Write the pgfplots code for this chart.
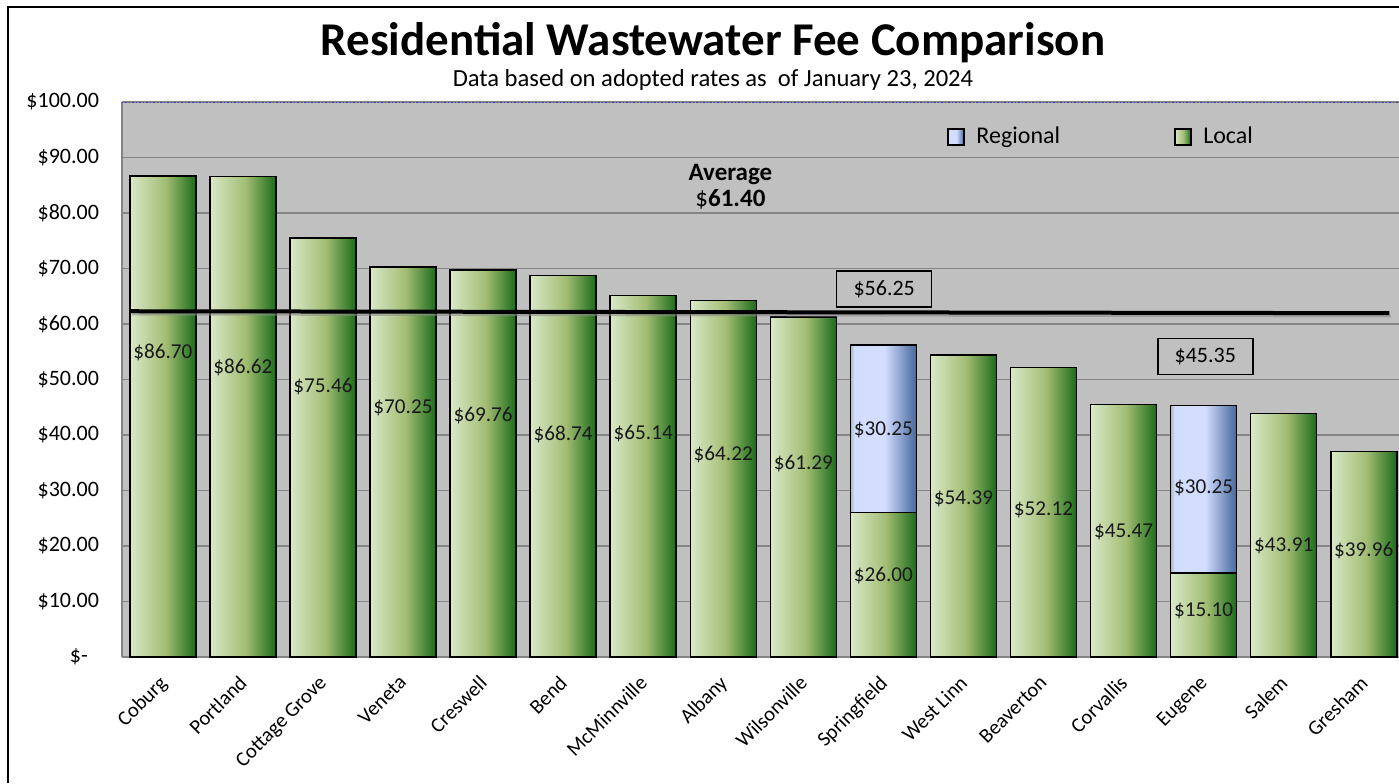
\documentclass[border=0pt]{standalone}
\usepackage{pgfplots}
\pgfplotsset{compat=1.18}
\usepackage{fontspec}
\setmainfont{Carlito}
\definecolor{plotbg}{HTML}{C0C0C0}
\definecolor{gridc}{HTML}{858585}
\definecolor{gL}{HTML}{DAE8C8}
\definecolor{gM}{HTML}{A2BD73}
\definecolor{gR}{HTML}{1A6C1A}
\definecolor{bA}{HTML}{A9B9C3}
\definecolor{bM}{HTML}{D2DDFF}
\definecolor{bR}{HTML}{46679C}
\pgfdeclarehorizontalshading{greenbar}{100bp}{color(0bp)=(gL); color(25bp)=(gL); color(52bp)=(gM); color(75bp)=(gR); color(100bp)=(gR)}
\pgfdeclarehorizontalshading{bluebar}{100bp}{color(0bp)=(bA); color(25bp)=(bA); color(28bp)=(bM); color(51bp)=(bM); color(75bp)=(bR); color(100bp)=(bR)}
\pgfplotsset{
  localbar/.style={ybar, bar width=33pt, bar shift=0pt, draw=black, line width=0.75pt, shade, shading=greenbar, forget plot},
  regbar/.style={ybar, bar width=33pt, bar shift=0pt, draw=black, line width=0.75pt, shade, shading=bluebar, forget plot},
}
\begin{document}
\begin{tikzpicture}[x=0.5pt,y=0.5pt]
\useasboundingbox (0,0) rectangle (1399,783);
\fill[white] (0,0) rectangle (1399,783);
\draw[line width=1pt] (8,0) -- (8,776) -- (1400,776);
\node[font=\bfseries\fontsize{23.5}{27}\selectfont] at (713,740) {Residential Wastewater Fee Comparison};
\node[font=\fontsize{12.3}{14}\selectfont] at (713,703) {Data based on adopted rates as\ \ of January 23, 2024};
\begin{axis}[
  at={(61pt,63pt)}, anchor=south west, scale only axis,
  width=638.5pt, height=277.5pt,
  xmin=-0.51, xmax=15.44, ymin=0, ymax=100,
  axis background/.style={fill=plotbg},
  axis x line*=bottom, axis y line*=left,
  axis line style={gridc, line width=1pt},
  ymajorgrids, grid style={gridc, line width=0.8pt},
  major tick length=0pt,
  ytick={0,10,...,100},
  yticklabels={\$-\phantom{0},\$10.00,\$20.00,\$30.00,\$40.00,\$50.00,\$60.00,\$70.00,\$80.00,\$90.00,\$100.00},
  yticklabel style={font=\fontsize{11}{13}\selectfont, xshift=-8pt},
  xtick={0,...,15},
  xticklabels={Coburg,Portland,Cottage Grove,Veneta,Creswell,Bend,McMinnville,Albany,Wilsonville,Springfield,West Linn,Beaverton,Corvallis,Eugene,Salem,Gresham},
  xticklabel style={font=\fontsize{10.3}{12}\selectfont, xshift=-2.5pt, yshift=-3.75pt, rotate=45, anchor=north east},
  /pgf/number format/assume math mode=true,
  legend columns=2,
  legend style={at={(0.646,0.937)}, anchor=west, draw=none, fill=none, inner sep=0pt,
    nodes={inner sep=0pt},
    font=\fontsize{12}{14}\selectfont,
    /tikz/every even column/.append style={column sep=57pt}},
]
\addlegendimage{legend image code/.code={\draw[line width=0.75pt, shade, shading=bluebar] (0pt,-4pt) rectangle (8pt,4pt); \path (14pt,0pt);}}
\addlegendentry{Regional}
\addlegendimage{legend image code/.code={\draw[line width=0.75pt, shade, shading=greenbar] (0pt,-4pt) rectangle (8pt,4pt); \path (14pt,0pt);}}
\addlegendentry{Local}
% Regional (total height = local + regional)
\addplot[regbar] coordinates {(9,56.25)};
\addplot[regbar] coordinates {(13,45.35)};
% Local
\addplot[localbar] coordinates {(0,86.70)};
\addplot[localbar] coordinates {(1,86.62)};
\addplot[localbar] coordinates {(2,75.46)};
\addplot[localbar] coordinates {(3,70.25)};
\addplot[localbar] coordinates {(4,69.76)};
\addplot[localbar] coordinates {(5,68.74)};
\addplot[localbar] coordinates {(6,65.14)};
\addplot[localbar] coordinates {(7,64.22)};
\addplot[localbar] coordinates {(8,61.29)};
\addplot[localbar] coordinates {(9,26.00)};
\addplot[localbar] coordinates {(10,54.39)};
\addplot[localbar] coordinates {(11,52.12)};
\addplot[localbar] coordinates {(12,45.47)};
\addplot[localbar] coordinates {(13,15.10)};
\addplot[localbar] coordinates {(14,43.91)};
\addplot[localbar] coordinates {(15,37.0)};
\addplot[draw=none, mark=none, forget plot, point meta=explicit,
  nodes near coords={\$\pgfmathprintnumber[fixed,fixed zerofill,precision=2]{\pgfplotspointmeta}},
  every node near coord/.append style={anchor=center, font=\fontsize{10.6}{12}\selectfont, text=black!90}]
  table[meta=v] {
x y v
0 54.95 86.70
1 52.25 86.62
2 48.65 75.46
3 44.86 70.25
4 43.42 69.76
5 40.18 68.74
6 40.18 65.14
7 36.40 64.22
8 34.95 61.29
9 40.90 30.25
9 14.60 26.00
10 28.47 54.39
11 26.49 52.12
12 22.52 45.47
13 30.45 30.25
13 8.29 15.10
14 20.00 43.91
15 19.10 39.96
};
\addplot[forget plot, black!45, line width=1.2pt, opacity=0.6, sharp plot, mark=none] coordinates {(-0.39,61.75) (15.34,61.4)};
\addplot[forget plot, black, line width=2pt, sharp plot, mark=none] coordinates {(-0.41,62.3) (15.32,61.95)};
\draw[densely dotted, color=blue!50!gray, line width=0.75pt] (rel axis cs:0,1) -- (rel axis cs:1,1);
\node[font=\bfseries\fontsize{12.5}{13}\selectfont, align=center] at (axis cs:7.09,84.7) {Average\\{\mdseries\$}61.40};
\node[draw=black, line width=0.75pt, minimum width=47.5pt, minimum height=18pt, inner sep=0pt, font=\fontsize{11}{13}\selectfont] at (axis cs:9.01,66.3) {\$56.25};
\node[draw=black, line width=0.75pt, minimum width=47.5pt, minimum height=18pt, inner sep=0pt, font=\fontsize{11}{13}\selectfont] at (axis cs:13.02,54.1) {\$45.35};
\end{axis}
\end{tikzpicture}
\end{document}
